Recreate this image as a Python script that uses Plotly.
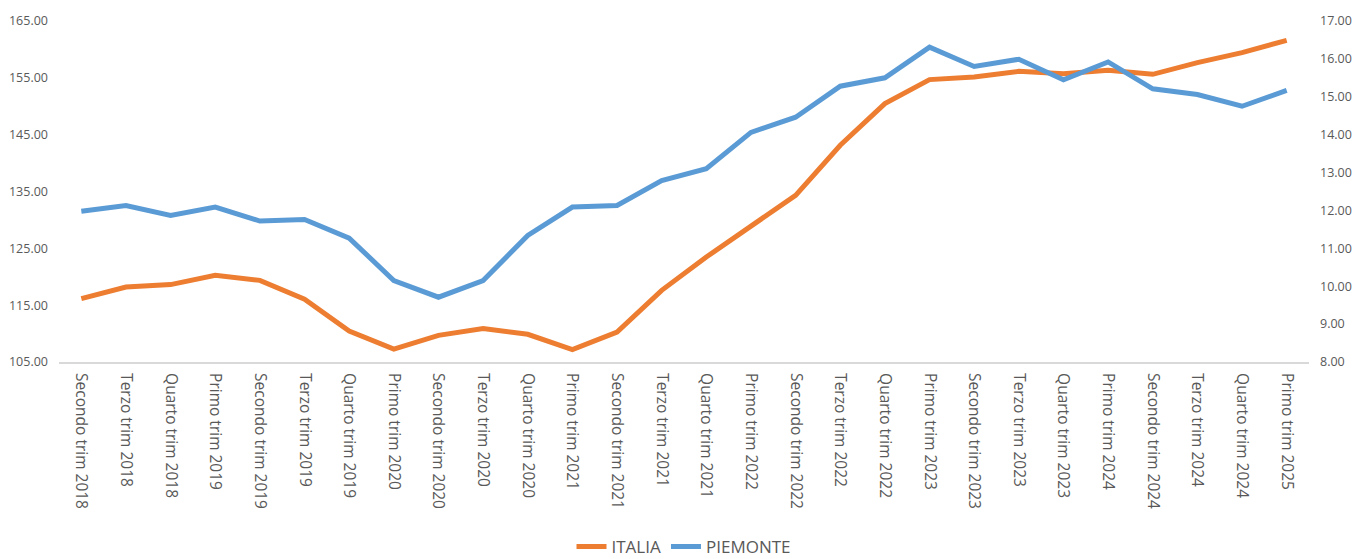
import plotly.graph_objects as go

categories = [
    "Secondo trim 2018", "Terzo trim 2018", "Quarto trim 2018",
    "Primo trim 2019", "Secondo trim 2019", "Terzo trim 2019", "Quarto trim 2019",
    "Primo trim 2020", "Secondo trim 2020", "Terzo trim 2020", "Quarto trim 2020",
    "Primo trim 2021", "Secondo trim 2021", "Terzo trim 2021", "Quarto trim 2021",
    "Primo trim 2022", "Secondo trim 2022", "Terzo trim 2022", "Quarto trim 2022",
    "Primo trim 2023", "Secondo trim 2023", "Terzo trim 2023", "Quarto trim 2023",
    "Primo trim 2024", "Secondo trim 2024", "Terzo trim 2024", "Quarto trim 2024",
    "Primo trim 2025",
]

italia = [116.15, 118.19, 118.62, 120.25, 119.37, 116.03, 110.45, 107.27,
          109.69, 110.87, 109.87, 107.18, 110.27, 117.61, 123.47, 128.91,
          134.33, 143.13, 150.47, 154.69, 155.15, 156.15, 155.74, 156.33,
          155.62, 157.68, 159.44, 161.60]

piemonte = [11.98, 12.13, 11.87, 12.09, 11.72, 11.76, 11.27, 10.15,
            9.71, 10.15, 11.34, 12.09, 12.13, 12.79, 13.10, 14.06,
            14.46, 15.28, 15.50, 16.31, 15.80, 15.99, 15.45, 15.92,
            15.21, 15.06, 14.75, 15.17]

left_ticks = [105, 115, 125, 135, 145, 155, 165]
right_ticks = [8, 9, 10, 11, 12, 13, 14, 15, 16, 17]

FONT = "Open Sans"
GRAY = "#595959"

fig = go.Figure()
fig.add_trace(go.Scatter(
    x=categories, y=italia, name="ITALIA", mode="lines",
    line=dict(color="#ED7D31", width=5), yaxis="y"))
fig.add_trace(go.Scatter(
    x=categories, y=piemonte, name="PIEMONTE", mode="lines",
    line=dict(color="#5B9BD5", width=5), yaxis="y2"))

fig.update_layout(
    width=1355, height=559,
    margin=dict(l=59, r=46, t=21, b=197, autoexpand=False),
    paper_bgcolor="white", plot_bgcolor="white",
    font=dict(family=FONT, color=GRAY, size=12),
    xaxis=dict(
        type="category", range=[-0.5, 27.5], tickangle=90, automargin=False,
        showgrid=False, showline=True, linecolor="#D9D9D9", linewidth=2,
        ticks="", tickfont=dict(size=15.5, color=GRAY), ticklabelstandoff=6,
    ),
    yaxis=dict(
        range=[105, 165], tickvals=left_ticks, automargin=False,
        ticktext=[f"{v:.2f}" for v in left_ticks],
        showgrid=False, zeroline=False, ticks="",
        tickfont=dict(size=12.5, color=GRAY), ticklabelstandoff=10,
    ),
    yaxis2=dict(
        range=[8, 17], tickvals=right_ticks, automargin=False,
        ticktext=[f"{v:.2f}" for v in right_ticks],
        overlaying="y", side="right",
        showgrid=False, zeroline=False, ticks="",
        tickfont=dict(size=12.5, color=GRAY), ticklabelstandoff=10,
    ),
    legend=dict(
        orientation="h", x=0.5, xanchor="center",
        yref="container", y=12 / 559, yanchor="middle",
        font=dict(size=17, color=GRAY),
    ),
)

fig.write_html(
    "out.html",
    config={"displayModeBar": False},
    post_script="document.body.style.margin='0';document.body.style.overflow='hidden';",
)
